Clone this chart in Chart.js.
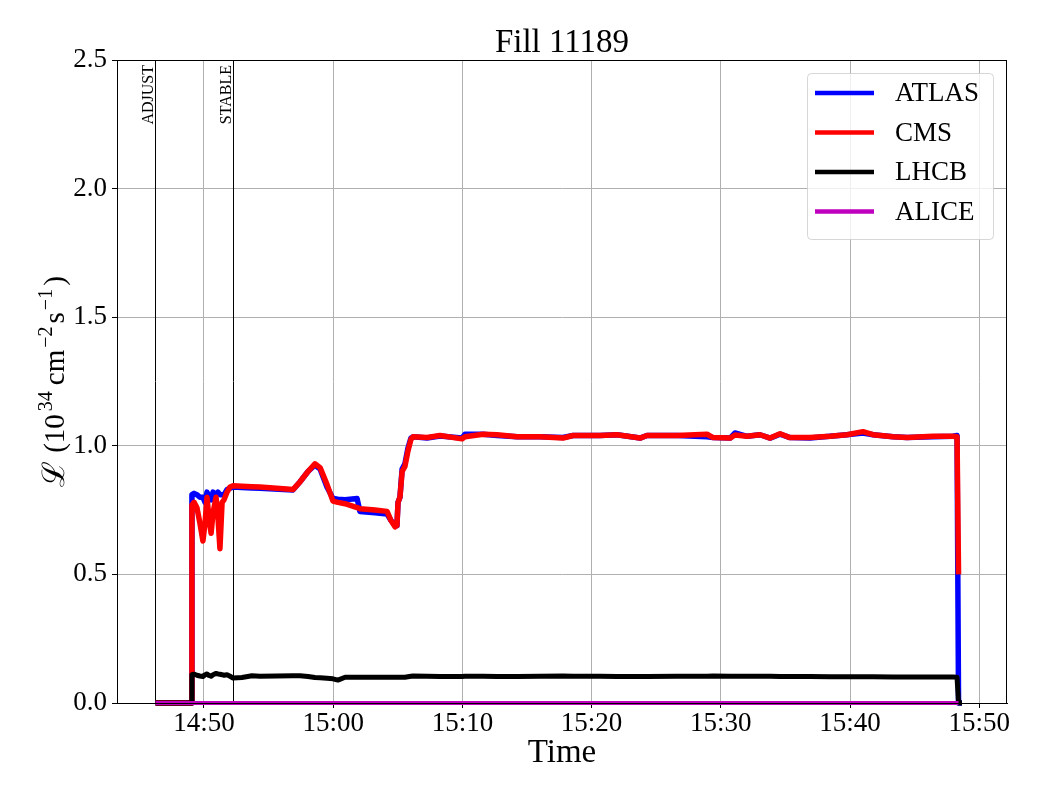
<!DOCTYPE html>
<html>
<head>
<meta charset="utf-8">
<title>Fill 11189</title>
<script src="https://cdn.jsdelivr.net/npm/chart.js@4.4.0/dist/chart.umd.min.js"></script>
<style>
  html, body { margin: 0; padding: 0; background: #fff; }
  #lumiChart { display: block; }
</style>
</head>
<body>
<canvas id="lumiChart" width="1040" height="800"></canvas>
<script>
// sample times (HH:MM:SS), shared by all four experiments
const times = [
  '14:46:15', '14:49:00', '14:49:04', '14:49:14', '14:49:27', '14:49:41', '14:49:55', '14:50:05',
  '14:50:14', '14:50:23', '14:50:33', '14:50:42', '14:50:56', '14:51:05', '14:51:14', '14:51:24',
  '14:51:33', '14:51:47', '14:52:01', '14:52:15', '14:52:56', '14:53:43', '14:54:20', '14:56:53',
  '14:57:26', '14:58:03', '14:58:35', '14:58:59', '14:59:31', '14:59:59', '15:00:22', '15:00:55',
  '15:01:51', '15:02:04', '15:03:14', '15:04:10', '15:04:28', '15:04:47', '15:04:56', '15:05:01',
  '15:05:10', '15:05:20', '15:05:33', '15:05:47', '15:06:01', '15:06:11', '15:07:16', '15:08:16',
  '15:09:58', '15:10:12', '15:11:36', '15:12:41', '15:14:14', '15:16:00', '15:17:47', '15:18:34',
  '15:20:39', '15:21:58', '15:23:45', '15:24:17', '15:26:37', '15:28:56', '15:29:24', '15:30:43',
  '15:31:06', '15:32:02', '15:33:02', '15:33:49', '15:34:35', '15:35:21', '15:36:54', '15:38:27',
  '15:39:46', '15:41:00', '15:41:47', '15:43:20', '15:44:25', '15:46:25', '15:47:58', '15:48:17',
  '15:48:24', '15:48:40'
];

// luminosity in 1e34 cm^-2 s^-1
const atlas = [
  0, 0, 0.81, 0.815, 0.81, 0.80, 0.80, 0.78,
  0.82, 0.80, 0.79, 0.82, 0.81, 0.82, 0.81, 0.81,
  0.81, 0.83, 0.835, 0.84, 0.838, 0.836, 0.835, 0.828,
  0.86, 0.90, 0.925, 0.91, 0.84, 0.795, 0.792, 0.79,
  0.795, 0.745, 0.74, 0.735, 0.71, 0.69, 0.69, 0.78,
  0.80, 0.91, 0.93, 0.99, 1.03, 1.035, 1.03, 1.038,
  1.03, 1.045, 1.045, 1.04, 1.035, 1.035, 1.032, 1.04,
  1.04, 1.043, 1.03, 1.04, 1.04, 1.035, 1.032, 1.03,
  1.05, 1.037, 1.043, 1.03, 1.045, 1.032, 1.03, 1.037,
  1.043, 1.05, 1.043, 1.035, 1.032, 1.035, 1.037, 1.04,
  0, 0
];
const cms = [
  0, 0, 0.77, 0.78, 0.76, 0.70, 0.63, 0.70,
  0.80, 0.72, 0.66, 0.74, 0.80, 0.72, 0.60, 0.78,
  0.79, 0.82, 0.84, 0.845, 0.843, 0.841, 0.84, 0.83,
  0.86, 0.90, 0.93, 0.915, 0.85, 0.785, 0.78, 0.775,
  0.76, 0.755, 0.75, 0.745, 0.71, 0.685, 0.69, 0.78,
  0.80, 0.90, 0.92, 0.98, 1.025, 1.035, 1.032, 1.04,
  1.027, 1.035, 1.045, 1.043, 1.035, 1.035, 1.03, 1.04,
  1.04, 1.043, 1.03, 1.04, 1.04, 1.045, 1.032, 1.03,
  1.042, 1.037, 1.043, 1.03, 1.047, 1.032, 1.032, 1.037,
  1.043, 1.055, 1.043, 1.035, 1.032, 1.037, 1.037, 1.035,
  0.5, null
];
const lhcb = [
  0, 0, 0.11, 0.112, 0.108, 0.105, 0.103, 0.11,
  0.113, 0.107, 0.104, 0.11, 0.115, 0.113, 0.112, 0.11,
  0.108, 0.11, 0.104, 0.097, 0.099, 0.106, 0.104, 0.106,
  0.106, 0.103, 0.099, 0.098, 0.096, 0.094, 0.089, 0.10,
  0.10, 0.10, 0.10, 0.10, 0.10, 0.10, 0.10, 0.10,
  0.10, 0.10, 0.10, 0.102, 0.104, 0.105, 0.104, 0.103,
  0.103, 0.104, 0.104, 0.103, 0.103, 0.104, 0.105, 0.104,
  0.104, 0.103, 0.103, 0.103, 0.104, 0.104, 0.105, 0.104,
  0.104, 0.104, 0.104, 0.104, 0.103, 0.103, 0.103, 0.102,
  0.102, 0.102, 0.102, 0.101, 0.101, 0.101, 0.101, 0.10,
  0, 0
];
const alice = [
  0, 0, 0, 0, 0, 0, 0, 0, 0, 0, 0, 0, 0, 0, 0, 0,
  0, 0, 0, 0, 0, 0, 0, 0, 0, 0, 0, 0, 0, 0, 0, 0,
  0, 0, 0, 0, 0, 0, 0, 0, 0, 0, 0, 0, 0, 0, 0, 0,
  0, 0, 0, 0, 0, 0, 0, 0, 0, 0, 0, 0, 0, 0, 0, 0,
  0, 0, 0, 0, 0, 0, 0, 0, 0, 0, 0, 0, 0, 0, 0, 0,
  0, null
];

const xTicks = ['14:50', '15:00', '15:10', '15:20', '15:30', '15:40', '15:50'];
const yTicks = [0, 0.5, 1.0, 1.5, 2.0, 2.5];
const xRange = ['14:43:16', '15:52:09'];
const modeNames = ['ADJUST', 'STABLE'];
const modeTimes = ['14:46:13', '14:52:15'];

const serif = '"Liberation Serif", "Times New Roman", "DejaVu Serif", serif';

function toMin(s) {
    const p = s.split(':').map(Number);
    return p[0] * 60 + p[1] + (p[2] || 0) / 60;
}

function fmtTime(v) {
    const m = Math.round(v);
    const h = Math.floor(m / 60);
    const mm = m % 60;
    return h + ':' + (mm < 10 ? '0' : '') + mm;
}

function series(values) {
    return times.map((t, i) => ({ x: toMin(t), y: values[i] }));
}

// title, beam mode lines, frame, legend and y label (with superscripts)
const decorations = {
    id: 'decorations',
    beforeDatasetsDraw(chart) {
        const { ctx, chartArea, scales } = chart;
        ctx.save();
        ctx.strokeStyle = 'black';
        ctx.lineWidth = 1;
        ctx.fillStyle = 'black';
        ctx.font = '16px ' + serif;
        modeTimes.forEach((t, i) => {
            const x = Math.round(scales.x.getPixelForValue(toMin(t))) + 0.5;
            ctx.beginPath();
            ctx.moveTo(x, chartArea.top);
            ctx.lineTo(x, chartArea.bottom);
            ctx.stroke();
            ctx.save();
            ctx.translate(x - 2.5, chartArea.top + 5);
            ctx.rotate(-Math.PI / 2);
            ctx.textAlign = 'right';
            ctx.textBaseline = 'alphabetic';
            ctx.fillText(modeNames[i], 0, 0);
            ctx.restore();
        });
        ctx.restore();
    },
    afterDraw(chart) {
        const { ctx, chartArea } = chart;
        ctx.save();

        // axes frame
        ctx.strokeStyle = 'black';
        ctx.lineWidth = 1;
        ctx.strokeRect(chartArea.left + 0.5, chartArea.top + 0.5,
            chartArea.right - chartArea.left - 1, chartArea.bottom - chartArea.top);

        // title
        ctx.fillStyle = 'black';
        ctx.font = '33px ' + serif;
        ctx.textAlign = 'center';
        ctx.textBaseline = 'alphabetic';
        ctx.fillText('Fill 11189', (chartArea.left + chartArea.right) / 2, chartArea.top - 8);

        // legend
        const sets = chart.data.datasets;
        ctx.font = '27px ' + serif;
        const textW = Math.max(...sets.map(d => ctx.measureText(d.label).width));
        const boxR = chartArea.right - 14;
        const boxT = chartArea.top + 13;
        const boxW = 8 + 59 + 21 + textW + 14;
        const boxH = 166;
        const boxL = boxR - boxW;
        ctx.beginPath();
        if (ctx.roundRect) ctx.roundRect(boxL + 0.5, boxT + 0.5, boxW, boxH, 4);
        else ctx.rect(boxL + 0.5, boxT + 0.5, boxW, boxH);
        ctx.fillStyle = 'rgba(255,255,255,0.8)';
        ctx.fill();
        ctx.strokeStyle = 'rgba(204,204,204,0.8)';
        ctx.lineWidth = 1;
        ctx.stroke();
        sets.forEach((d, i) => {
            const y = boxT + 20 + i * 39.5;
            ctx.strokeStyle = d.borderColor;
            ctx.lineWidth = 4.5;
            ctx.beginPath();
            ctx.moveTo(boxL + 8, y);
            ctx.lineTo(boxL + 67, y);
            ctx.stroke();
            ctx.fillStyle = 'black';
            ctx.textAlign = 'left';
            ctx.textBaseline = 'middle';
            ctx.fillText(d.label, boxL + 88, y + 1);
        });

        // y axis label: L (10^34 cm^-2 s^-1)
        const parts = [['\u2112', 0, 8], ['(10', 0, 3], ['34', 1, 6], ['cm', 0, 2], ['\u22122', 1, 3], ['s', 0, 2], ['\u22121', 1, 3], [')', 0, 0]];
        const mainFont = '29px ' + serif;
        const supFont = '20px ' + serif;
        const scriptFont = '31px "DejaVu Serif", serif';
        const fontOf = (p, i) => (i === 0 ? scriptFont : (p[1] ? supFont : mainFont));
        const widths = parts.map((p, i) => {
            ctx.font = fontOf(p, i);
            return ctx.measureText(p[0]).width + p[2];
        });
        const total = widths.reduce((a, b) => a + b, 0);
        ctx.translate(64, (chartArea.top + chartArea.bottom) / 2);
        ctx.rotate(-Math.PI / 2);
        ctx.textAlign = 'left';
        ctx.textBaseline = 'alphabetic';
        ctx.fillStyle = 'black';
        let pos = -total / 2;
        parts.forEach((p, i) => {
            ctx.font = fontOf(p, i);
            ctx.fillText(p[0], pos, p[1] ? -12 : 0);
            pos += widths[i];
        });
        ctx.restore();
    }
};

document.addEventListener('DOMContentLoaded', () => {
    const ctx = document.getElementById('lumiChart').getContext('2d');
    Chart.defaults.font.family = serif;
    Chart.defaults.color = 'black';

    const lineStyle = { pointRadius: 0, tension: 0, borderJoinStyle: 'round', fill: false, clip: false };

    new Chart(ctx, {
        type: 'line',
        data: {
            datasets: [
                { label: 'ATLAS', data: series(atlas), borderColor: '#0000ff', borderWidth: 5.5, order: 3, ...lineStyle },
                { label: 'CMS', data: series(cms), borderColor: '#ff0000', borderWidth: 5.5, order: 2, ...lineStyle },
                { label: 'LHCB', data: series(lhcb), borderColor: '#000000', borderWidth: 5, order: 1, ...lineStyle },
                { label: 'ALICE', data: series(alice), borderColor: '#bf00bf', borderWidth: 4, order: 0, ...lineStyle }
            ]
        },
        options: {
            responsive: false,
            animation: false,
            devicePixelRatio: 1,
            layout: { padding: { left: 0, right: 33, top: 60, bottom: 0 } },
            plugins: {
                legend: { display: false },
                tooltip: { enabled: false },
                title: { display: false }
            },
            scales: {
                x: {
                    type: 'linear',
                    min: toMin(xRange[0]),
                    max: toMin(xRange[1]),
                    afterFit: (scale) => { scale.height = 97; },
                    afterBuildTicks: (axis) => { axis.ticks = xTicks.map(t => ({ value: toMin(t) })); },
                    grid: { color: '#b0b0b0', lineWidth: 1, tickColor: 'black', tickLength: 5 },
                    border: { color: 'black', width: 1 },
                    ticks: {
                        autoSkip: false,
                        maxRotation: 0,
                        padding: 0,
                        color: 'black',
                        font: { size: 27 },
                        callback: (v) => fmtTime(v)
                    },
                    title: {
                        display: true,
                        text: 'Time',
                        color: 'black',
                        font: { size: 33 },
                        padding: { top: 0, bottom: 27 }
                    }
                },
                y: {
                    min: 0,
                    max: 2.5,
                    afterFit: (scale) => { scale.width = 117; },
                    afterBuildTicks: (axis) => { axis.ticks = yTicks.map(v => ({ value: v })); },
                    grid: { color: '#b0b0b0', lineWidth: 1, tickColor: 'black', tickLength: 5 },
                    border: { color: 'black', width: 1 },
                    ticks: {
                        padding: 5,
                        color: 'black',
                        font: { size: 27 },
                        callback: (v) => v.toFixed(1)
                    }
                }
            }
        },
        plugins: [decorations]
    });
});
</script>
</body>
</html>
